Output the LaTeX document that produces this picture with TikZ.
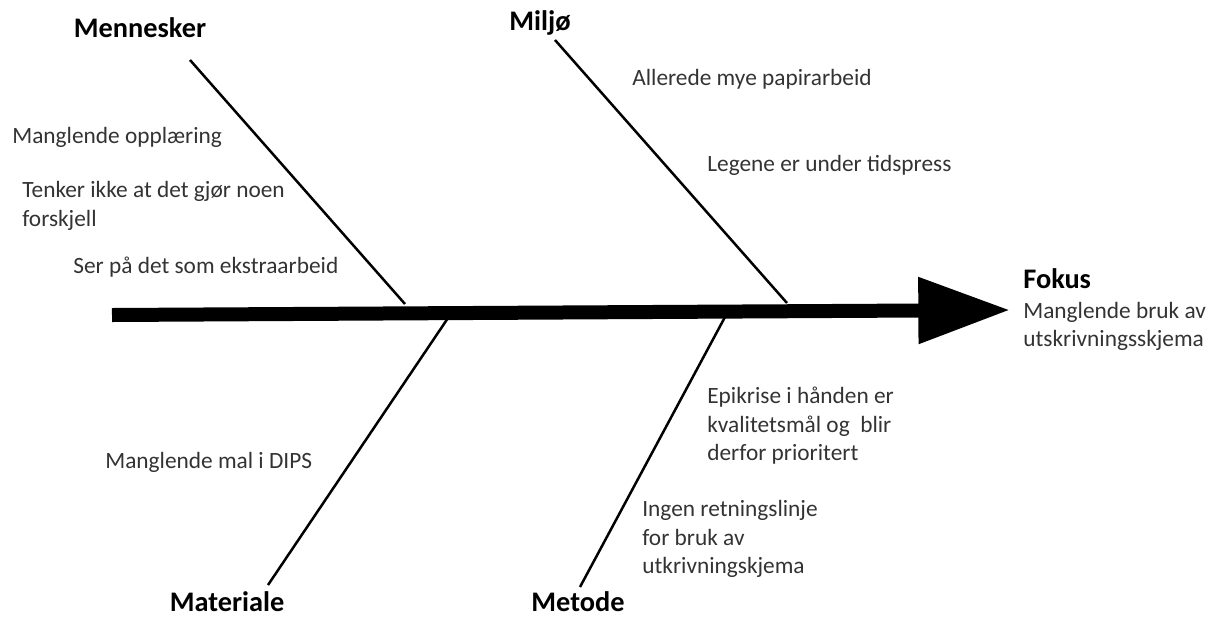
\documentclass[tikz,border=0pt]{standalone}
\usepackage{fontspec}
\setmainfont{Carlito}
\usetikzlibrary{arrows.meta}

\begin{document}
\begin{tikzpicture}[
    x=0.6pt, y=-0.6pt,
    spine/.style={line width=8.4pt, -{Triangle[length=55pt, width=38pt]}},
    bone/.style={line width=1.5pt},
    cause/.style={font=\fontsize{17}{20}\selectfont\bfseries, text=black},
    reason/.style={anchor=west, align=left, inner sep=0pt,
      font=\fontsize{14}{17.1}\selectfont, text=black!80}
]
  \useasboundingbox (0,0) rectangle (1222,619);

  % hovedgrener
  \node[cause] (mennesker) at (140,28) {Mennesker};
  \node[cause] (miljo) at (540,23) {Miljø};
  \node[cause] (materiale) at (227,602) {Materiale};
  \node[cause] (metode) at (578,602) {Metode};

  % ryggrad og fokus
  \coordinate (tail) at (112,315);
  \coordinate (head) at (1010,310);
  \draw[spine] (tail) -- (head);
  \node[reason, anchor=north west] (fokus) at (1023,268)
    {{\fontsize{17}{20}\selectfont\bfseries\color{black}Fokus}\\[1pt]
     Manglende bruk av\\ utskrivningsskjema};

  % grener
  \coordinate (m1) at (190,60);   \coordinate (m2) at (405,304);
  \coordinate (e1) at (555,40);   \coordinate (e2) at (787,303);
  \coordinate (a1) at (448,318);  \coordinate (a2) at (268,585);
  \coordinate (t1) at (725,317);  \coordinate (t2) at (580,587);
  \draw[bone] (m1) -- (m2);
  \draw[bone] (e1) -- (e2);
  \draw[bone] (a1) -- (a2);
  \draw[bone] (t1) -- (t2);

  % årsaker
  \node[reason] (opplaering) at (12,137) {Manglende opplæring};
  \node[reason] (forskjell) at (22,206) {Tenker ikke at det gjør noen\\forskjell};
  \node[reason] (ekstra) at (73,267) {Ser på det som ekstraarbeid};
  \node[reason] (papir) at (632,79) {Allerede mye papirarbeid};
  \node[reason] (tidspress) at (707,165) {Legene er under tidspress};
  \node[reason] (dips) at (105,462) {Manglende mal i DIPS};
  \node[reason] (epikrise) at (707,426)
    {Epikrise i hånden er\\kvalitetsmål og~ blir\\derfor prioritert};
  \node[reason] (retning) at (642,539)
    {Ingen retningslinje\\for bruk av\\utkrivningskjema};
\end{tikzpicture}
\end{document}
